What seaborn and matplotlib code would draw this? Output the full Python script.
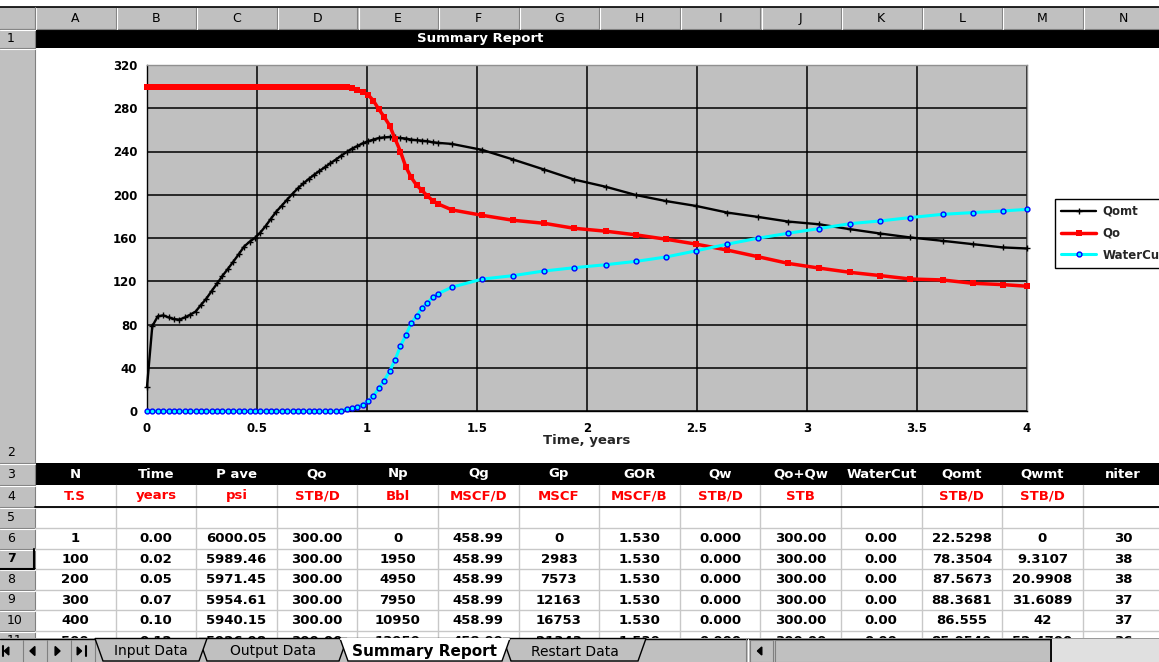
import matplotlib
matplotlib.use("Agg")
import matplotlib.pyplot as plt
import numpy as np
import pandas as pd
import seaborn as sns
from matplotlib.patches import Rectangle, Polygon

# ---------------- data ----------------
time_years = [0.000, 0.024, 0.049, 0.074, 0.098, 0.123, 0.147, 0.172, 0.196, 0.221,
              0.245, 0.270, 0.294, 0.319, 0.343, 0.368, 0.392, 0.417, 0.441, 0.466,
              0.490, 0.515, 0.539, 0.564, 0.588, 0.613, 0.637, 0.662, 0.686, 0.711,
              0.735, 0.760, 0.784, 0.809, 0.833, 0.858, 0.882, 0.907, 0.931, 0.956,
              0.980, 1.005, 1.029, 1.054, 1.078, 1.103, 1.127, 1.152, 1.176, 1.201,
              1.225, 1.250, 1.274, 1.299, 1.323, 1.386, 1.523, 1.664, 1.805, 1.941,
              2.085, 2.223, 2.358, 2.497, 2.638, 2.777, 2.915, 3.054, 3.197, 3.334,
              3.469, 3.616, 3.754, 3.889, 4.000]

qomt = [22.5, 78.4, 87.6, 88.4, 86.6, 85.0, 84.5, 86.5, 89.0, 92.0,
        98.0, 104.0, 111.0, 118.0, 125.0, 131.5, 138.0, 145.0, 152.0, 156.5,
        160.0, 165.0, 171.0, 178.0, 184.5, 190.0, 195.5, 201.0, 206.0, 210.5,
        214.5, 218.5, 222.0, 225.5, 229.0, 232.5, 236.0, 239.5, 242.5, 245.0,
        247.5, 249.5, 251.0, 252.5, 253.0, 253.5, 253.0, 252.5, 252.0, 251.0,
        250.5, 250.0, 249.5, 248.5, 248.0, 247.0, 241.5, 232.6, 223.3, 214.1,
        207.4, 199.7, 194.2, 189.6, 183.5, 179.5, 175.2, 172.7, 168.1, 164.1,
        160.5, 157.4, 154.3, 151.3, 150.3]

qo = [300.0, 300.0, 300.0, 300.0, 300.0, 300.0, 300.0, 300.0, 300.0, 300.0,
      300.0, 300.0, 300.0, 300.0, 300.0, 300.0, 300.0, 300.0, 300.0, 300.0,
      300.0, 300.0, 300.0, 300.0, 300.0, 300.0, 300.0, 300.0, 300.0, 300.0,
      300.0, 300.0, 300.0, 300.0, 300.0, 300.0, 300.0, 300.0, 298.5, 297.0,
      295.0, 292.5, 287.0, 279.0, 272.0, 264.0, 252.0, 240.0, 226.0, 216.0,
      209.0, 204.0, 199.0, 194.5, 191.5, 186.0, 181.0, 176.4, 173.6, 169.0,
      166.3, 162.9, 158.9, 154.3, 148.8, 142.7, 136.5, 132.2, 128.2, 125.2,
      122.1, 121.2, 118.1, 116.9, 115.4]

watercut = [0.0, 0.0, 0.0, 0.0, 0.0, 0.0, 0.0, 0.0, 0.0, 0.0,
            0.0, 0.0, 0.0, 0.0, 0.0, 0.0, 0.0, 0.0, 0.0, 0.0,
            0.0, 0.0, 0.0, 0.0, 0.0, 0.0, 0.0, 0.0, 0.0, 0.0,
            0.0, 0.0, 0.0, 0.0, 0.0, 0.0, 0.0, 2.0, 2.5, 4.0,
            6.0, 9.0, 14.0, 21.0, 28.0, 37.0, 47.0, 60.0, 70.0, 81.0,
            88.0, 95.0, 100.0, 105.0, 108.5, 114.5, 122.0, 125.2, 129.5, 132.5,
            135.3, 138.4, 142.4, 148.2, 154.3, 159.8, 164.4, 168.7, 173.3, 175.8,
            178.9, 181.9, 183.5, 185.0, 186.5]

series_names = ["Qomt", "Qo", "WaterCut"]
x_tick_values = [0, 0.5, 1, 1.5, 2, 2.5, 3, 3.5, 4]
x_tick_labels = ["0", "0.5", "1", "1.5", "2", "2.5", "3", "3.5", "4"]
y_tick_values = [0, 40, 80, 120, 160, 200, 240, 280, 320]
y_tick_labels = ["0", "40", "80", "120", "160", "200", "240", "280", "320"]
x_axis_title = "Time, years"

col_letters = ["A", "B", "C", "D", "E", "F", "G", "H", "I", "J", "K", "L", "M", "N"]
header_names = ["N", "Time", "P ave", "Qo", "Np", "Qg", "Gp", "GOR", "Qw", "Qo+Qw",
                "WaterCut", "Qomt", "Qwmt", "niter"]
header_units = ["T.S", "years", "psi", "STB/D", "Bbl", "MSCF/D", "MSCF", "MSCF/B",
                "STB/D", "STB", "", "STB/D", "STB/D", ""]
table_rows = [
    ["1", "0.00", "6000.05", "300.00", "0", "458.99", "0", "1.530", "0.000", "300.00", "0.00", "22.5298", "0", "30"],
    ["100", "0.02", "5989.46", "300.00", "1950", "458.99", "2983", "1.530", "0.000", "300.00", "0.00", "78.3504", "9.3107", "38"],
    ["200", "0.05", "5971.45", "300.00", "4950", "458.99", "7573", "1.530", "0.000", "300.00", "0.00", "87.5673", "20.9908", "38"],
    ["300", "0.07", "5954.61", "300.00", "7950", "458.99", "12163", "1.530", "0.000", "300.00", "0.00", "88.3681", "31.6089", "37"],
    ["400", "0.10", "5940.15", "300.00", "10950", "458.99", "16753", "1.530", "0.000", "300.00", "0.00", "86.555", "42", "37"],
    ["500", "0.12", "5926.98", "300.00", "13950", "458.99", "21343", "1.530", "0.000", "300.00", "0.00", "85.0540", "52.4700", "36"],
]
sheet_title = "Summary Report"
sheet_tabs = ["Input Data", "Output Data", "Summary Report", "Restart Data"]
active_tab = "Summary Report"

# ---------------- figure ----------------
sns.set_style("white")
plt.rcParams["font.family"] = ["DejaVu Sans"]

W, H = 1159, 662
fig = plt.figure(figsize=(W / 100, H / 100), dpi=100)
fig.patch.set_facecolor("white")

bg = fig.add_axes([0, 0, 1, 1])
bg.set_xlim(0, W)
bg.set_ylim(H, 0)
bg.axis("off")

GREY = "#C0C0C0"
DARK = "#808080"
LIGHTG = "#C8C8C8"

row_hdr_w = 35
col_w = 80.6
col_edges = [row_hdr_w + col_w * k for k in range(15)]
col_centers = [(col_edges[k] + col_edges[k + 1]) / 2 for k in range(14)]

# top border and column header
bg.plot([0, W], [6.5, 6.5], color="black", lw=1.2, solid_capstyle="butt")
bg.add_patch(Rectangle((0, 7), W, 22, facecolor=GREY, edgecolor="none"))
bg.plot([0, W], [29, 29], color=DARK, lw=0.8)
for xe in col_edges[:-1]:
    bg.plot([xe, xe], [7.5, 28.5], color=DARK, lw=0.8)
    bg.plot([xe + 1.2, xe + 1.2], [7.5, 28.5], color="white", lw=0.8)
for c, letter in zip(col_centers, col_letters):
    bg.text(c, 18.5, letter, ha="center", va="center", fontsize=9, color="black")

# row header column
bg.add_patch(Rectangle((0, 29), row_hdr_w, H - 29, facecolor=GREY, edgecolor="none"))
bg.plot([row_hdr_w, row_hdr_w], [7, H], color=DARK, lw=0.8)

row_edges = [29, 48, 463, 485, 507, 528, 548.5, 569, 589.5, 610, 630.5, 651]
row_labels = ["1", "2", "3", "4", "5", "6", "7", "8", "9", "10", "11"]
for ye in row_edges:
    bg.plot([0, row_hdr_w], [ye, ye], color=DARK, lw=0.8)
    bg.plot([0, row_hdr_w], [ye + 1.2, ye + 1.2], color="white", lw=0.8)
for i, lab in enumerate(row_labels):
    y0, y1 = row_edges[i], row_edges[i + 1]
    yc = (y0 + y1) / 2 if lab != "2" else y1 - 10
    bg.text(7, yc, lab, ha="left", va="center", fontsize=9,
            fontweight="bold" if lab == "7" else "normal", color="black")
# active row header 7 (pressed look)
bg.plot([row_hdr_w - 1.5, row_hdr_w - 1.5], [548.5, 569], color="black", lw=1.5)
bg.plot([0, row_hdr_w], [568.5, 568.5], color="black", lw=1.5)

# row 1: title bar
bg.add_patch(Rectangle((row_hdr_w, 29), W - row_hdr_w, 19, facecolor="black", edgecolor="none"))
bg.text(480, 38.5, sheet_title, ha="center", va="center", fontsize=9.5,
        fontweight="bold", color="white")

# row 3: header names
bg.add_patch(Rectangle((row_hdr_w, 463), W - row_hdr_w, 22, facecolor="black", edgecolor="none"))
for c, name in zip(col_centers, header_names):
    bg.text(c, 474, name, ha="center", va="center", fontsize=9.5, fontweight="bold", color="white")

# cell grid
for ye in row_edges[4:]:
    bg.plot([row_hdr_w, W], [ye, ye], color=LIGHTG, lw=1.0)
for xe in col_edges[1:]:
    bg.plot([xe, xe], [485, H], color=LIGHTG, lw=1.0)
bg.plot([row_hdr_w, W], [507, 507], color="black", lw=1.3)

# row 4: units
for c, unit in zip(col_centers, header_units):
    bg.text(c, 496, unit, ha="center", va="center", fontsize=9.5, fontweight="bold", color="#FF0000")

# data rows 6..11 (row 11 is partly hidden behind the tab bar, as in the sheet)
for r, row in enumerate(table_rows):
    y0, y1 = row_edges[5 + r], row_edges[6 + r]
    for c, val in zip(col_centers, row):
        bg.text(c, (y0 + y1) / 2 + 0.5, val, ha="center", va="center", fontsize=9.5,
                fontweight="bold", color="black", clip_on=True)

# sheet tab bar
bg.add_patch(Rectangle((0, 638), W, H - 638, facecolor=GREY, edgecolor="none", zorder=10))
bg.plot([0, W], [638.5, 638.5], color="black", lw=1.0, zorder=11)
for bx in [3, 27, 51, 75]:
    bg.plot([bx + 20, bx + 20], [640, H], color=DARK, lw=0.8, zorder=11)


def tri(xc, yc, d, s=4.5):
    if d > 0:
        pts = [(xc - s * 0.9, yc), (xc + s * 0.2, yc - s), (xc + s * 0.2, yc + s)]
    else:
        pts = [(xc + s * 0.9, yc), (xc - s * 0.2, yc - s), (xc - s * 0.2, yc + s)]
    bg.add_patch(Polygon(pts, closed=True, facecolor="black", edgecolor="black", zorder=12))


tri(8, 651, 1, 4)
bg.plot([3, 3], [646, 656], color="black", lw=1.5, zorder=12)
tri(34, 651, 1)
tri(56, 651, -1)
tri(78, 651, -1, 4)
bg.plot([86, 86], [646, 656], color="black", lw=1.5, zorder=12)

tab_geom = {"Input Data": (95, 207), "Output Data": (199, 347),
            "Summary Report": (340, 510), "Restart Data": (503, 646)}
draw_order = ["Restart Data", "Output Data", "Input Data", "Summary Report"]
for name in draw_order:
    x0, x1 = tab_geom[name]
    active = name == active_tab
    poly = Polygon([(x0, 638.5), (x0 + 8, H - 1), (x1 - 8, H - 1), (x1, 638.5)], closed=True,
                   facecolor="white" if active else GREY, edgecolor="black", lw=1.0,
                   zorder=13 if active else 12)
    bg.add_patch(poly)
    if active:
        bg.plot([x0 + 1, x1 - 1], [638.5, 638.5], color="white", lw=1.5, zorder=13.5)
    bg.text((x0 + x1) / 2, 651.5, name, ha="center", va="center",
            fontsize=11 if active else 10, fontweight="bold" if active else "normal",
            color="black", zorder=14)

# horizontal scroll bar
bg.plot([746, 746], [639, H], color=DARK, lw=0.8, zorder=12)
bg.plot([748, 748], [639, H], color="white", lw=0.8, zorder=12)
bg.add_patch(Rectangle((750, 640), 23, H - 640, facecolor=GREY, edgecolor=DARK, lw=0.8, zorder=12))
tri(761, 651, 1, 4)
bg.add_patch(Rectangle((775, 640), 276, H - 640, facecolor=GREY, edgecolor=DARK, lw=0.8, zorder=12))
bg.plot([1051, 1051], [640, H], color="black", lw=1.3, zorder=13)
bg.add_patch(Rectangle((1052, 639), W - 1052, H - 639, facecolor="#E0E0E0", edgecolor="none",
                       hatch="....", zorder=12))

# ---------------- chart ----------------
ax = fig.add_axes([147 / W, 1 - 411 / H, 880 / W, 346 / H])
ax.set_facecolor(GREY)

df = pd.DataFrame({"Time": time_years, "Qomt": qomt, "Qo": qo, "WaterCut": watercut})

sns.lineplot(data=df, x="Time", y="Qomt", ax=ax, color="black", lw=1.7, marker="+",
             markersize=5, markeredgewidth=1.0, markeredgecolor="black",
             estimator=None, sort=False, label=series_names[0], zorder=3)
sns.lineplot(data=df, x="Time", y="Qo", ax=ax, color="#FF0000", lw=2.5, marker="s",
             markersize=4.0, markeredgewidth=0, markerfacecolor="#FF0000",
             estimator=None, sort=False, label=series_names[1], zorder=4)
sns.lineplot(data=df, x="Time", y="WaterCut", ax=ax, color="#00FFFF", lw=2.2, marker="o",
             markersize=3.5, markeredgewidth=1.0, markeredgecolor="#0000FF",
             markerfacecolor="#00FFFF", estimator=None, sort=False,
             label=series_names[2], zorder=5)

for ln in ax.get_lines():
    ln.set_clip_on(False)

ax.set_xlim(0, 4)
ax.set_ylim(0, 320)
ax.set_xticks(x_tick_values)
ax.set_xticklabels(x_tick_labels)
ax.set_yticks(y_tick_values)
ax.set_yticklabels(y_tick_labels)
ax.grid(True, color="black", lw=1.1)
ax.set_axisbelow(True)
for sp in ax.spines.values():
    sp.set_visible(True)
    sp.set_color("black")
    sp.set_linewidth(1.0)
ax.spines["top"].set_color("#909090")
ax.spines["right"].set_color("#909090")
ax.tick_params(axis="y", direction="out", length=5, width=1.0, pad=2, labelsize=8.5, colors="black")
ax.tick_params(axis="x", direction="out", length=4, width=1.0, pad=4, labelsize=8.5, colors="black")
for lab in ax.get_xticklabels() + ax.get_yticklabels():
    lab.set_fontweight("bold")
ax.set_xlabel(x_axis_title, fontsize=9.5, fontweight="bold", labelpad=-1)
ax.set_ylabel("")

leg = ax.legend(loc="upper left", bbox_to_anchor=(1055 / W, 1 - 199 / H),
                bbox_transform=fig.transFigure, frameon=True, fancybox=False,
                edgecolor="black", facecolor="white", framealpha=1, borderpad=0.5,
                handlelength=3.0, handletextpad=0.5, labelspacing=0.75, borderaxespad=0,
                prop={"weight": "bold", "size": 8.5})
leg.get_frame().set_linewidth(1.0)

fig.savefig("out.png", dpi=100, facecolor="white")
